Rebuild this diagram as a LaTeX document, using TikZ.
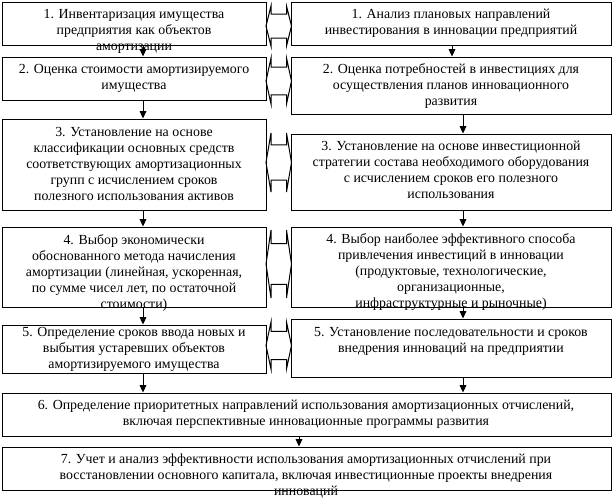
\documentclass[tikz,border=0pt]{standalone}
\usepackage{fontspec}
\setmainfont{Liberation Serif}
\usetikzlibrary{arrows.meta,fit}
\tikzset{
  box/.style={draw, line width=0.75pt, inner sep=0pt},
  txt/.style={align=center, inner sep=0pt, font=\fontsize{10.4}{12}\selectfont},
  flow/.style={-{Triangle[width=5pt,length=5.5pt]}, line width=0.75pt},
  dbl/.style={line width=0.75pt, line join=miter}
}
\newcommand\dblarr[2]{%
  \pgfmathsetmacro\ym{(#1+#2)/2}%
  \pgfmathsetmacro\ya{#1+0.2*(#2-#1)}%
  \pgfmathsetmacro\yb{#2-0.2*(#2-#1)}%
  \draw[dbl] (266,\ym) -- (271,#1) -- (271,\ya) -- (286.5,\ya) -- (286.5,#1) -- (291.5,\ym)
    -- (286.5,#2) -- (286.5,\yb) -- (271,\yb) -- (271,#2) -- cycle;}
\begin{document}
\begin{tikzpicture}[x=0.75pt,y=-0.75pt]
\useasboundingbox (0,0) rectangle (614,500);
% left column boxes
\node[box, fit={(2,2)(266,45)}] (L1) {};
\node[box, fit={(2,57)(266,100)}] (L2) {};
\node[box, fit={(2,119)(266,210)}] (L3) {};
\node[box, fit={(2,227)(266,307)}] (L4) {};
\node[box, fit={(2,325)(266,373)}] (L5) {};
% right column boxes
\node[box, fit={(291,2)(611,45)}] (R1) {};
\node[box, fit={(291,57)(611,114)}] (R2) {};
\node[box, fit={(291,134)(611,210)}] (R3) {};
\node[box, fit={(291,227)(611,307)}] (R4) {};
\node[box, fit={(291,319)(611,377)}] (R5) {};
% bottom boxes
\node[box, fit={(2,393)(611,436)}] (B6) {};
\node[box, fit={(2,447)(611,490)}] (B7) {};

% texts
\node[txt] (L1t) at (134,31) {1. Инвентаризация имущества\\предприятия как объектов\\амортизации};
\node[txt] (L2t) at (134,78) {2. Оценка стоимости амортизируемого\\имущества};
\node[txt] (L3t) at (134,164) {3. Установление на основе\\классификации основных средств\\соответствующих амортизационных\\групп с исчислением сроков\\полезного использования активов};
\node[txt] (L4t) at (134,273) {4. Выбор экономически\\обоснованного метода начисления\\амортизации (линейная, ускоренная,\\по сумме чисел лет, по остаточной\\стоимости)};
\node[txt] (L5t) at (134,349) {5. Определение сроков ввода новых и\\выбытия устаревших объектов\\амортизируемого имущества};

\node[txt] (R1t) at (451,23) {1. Анализ плановых направлений\\инвестирования в инновации предприятий};
\node[txt] (R2t) at (451,86) {2. Оценка потребностей в инвестициях для\\осуществления планов инновационного\\развития};
\node[txt] (R3t) at (451,170) {3. Установление на основе инвестиционной\\стратегии состава необходимого оборудования\\с исчислением сроков его полезного\\использования};
\node[txt] (R4t) at (451,272) {4. Выбор наиболее эффективного способа\\привлечения инвестиций в инновации\\(продуктовые, технологические,\\организационные,\\инфраструктурные и рыночные)};
\node[txt] (R5t) at (451,341) {5. Установление последовательности и сроков\\внедрения инноваций на предприятии};

\node[txt] (B6t) at (306,414) {6. Определение приоритетных направлений использования амортизационных отчислений,\\включая перспективные инновационные программы развития};
\node[txt] (B7t) at (306,476) {7. Учет и анализ эффективности использования амортизационных отчислений при\\восстановлении основного капитала, включая инвестиционные проекты внедрения\\инноваций};

% vertical arrows
\coordinate (xl) at (143,0);
\coordinate (xr1) at (452,0);
\coordinate (xr) at (463,0);
\coordinate (xm) at (299,0);
\draw[flow] (L1.south -| xl) -- (L2.north -| xl);
\draw[flow] (L2.south -| xl) -- (L3.north -| xl);
\draw[flow] (L3.south -| xl) -- (L4.north -| xl);
\draw[flow] (L4.south -| xl) -- (L5.north -| xl);
\draw[flow] (L5.south -| xl) -- (B6.north -| xl);
\draw[flow] (R1.south -| xr1) -- (R2.north -| xr1);
\draw[flow] (R2.south -| xr) -- (R3.north -| xr);
\draw[flow] (R3.south -| xr) -- (R4.north -| xr);
\draw[flow] (R4.south -| xr) -- (R5.north -| xr);
\draw[flow] (R5.south -| xr) -- (B6.north -| xr);
\draw[flow] (B6.south -| xm) -- (B7.north -| xm);

% double arrows between columns
\dblarr{6}{46}
\dblarr{58}{104}
\dblarr{133}{192}
\dblarr{230}{298}
\dblarr{322}{369}
\end{tikzpicture}
\end{document}
